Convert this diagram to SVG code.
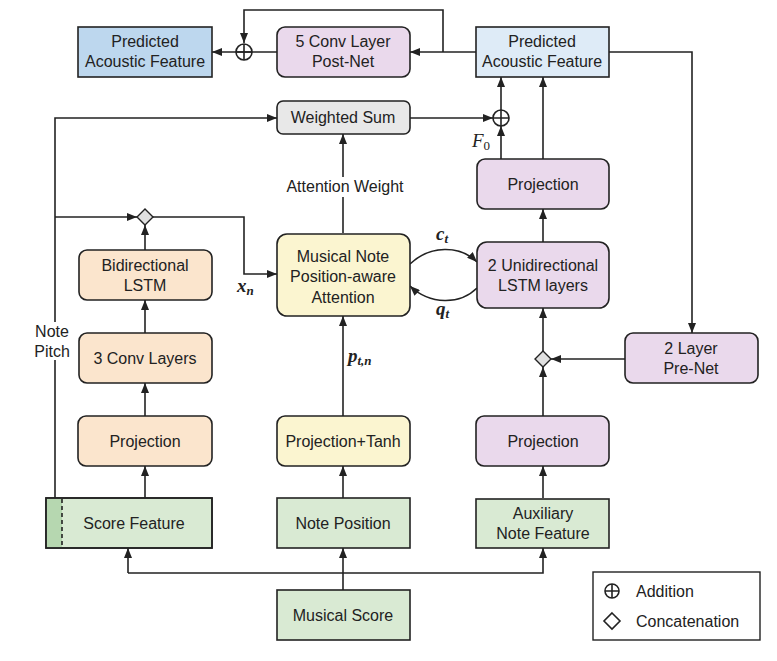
<svg xmlns="http://www.w3.org/2000/svg" width="777" height="661" viewBox="0 0 777 661">
<defs>
<marker id="arr" viewBox="0 0 10 8" refX="10" refY="4" markerWidth="10" markerHeight="8" markerUnits="userSpaceOnUse" orient="auto"><path d="M0,0 L10,4 L0,8 z" fill="#222"/></marker>
<style>
.box{stroke:#222;stroke-width:1.6}
.t{font-family:"Liberation Sans",Arial,sans-serif;font-size:16px;fill:#222;text-anchor:middle}
.m{font-family:"Liberation Serif","Times New Roman",serif;font-style:italic;font-weight:bold;font-size:19px;fill:#222}
.f{font-family:"Liberation Serif","Times New Roman",serif;font-style:italic;font-size:19px;fill:#222}
.sub{font-size:13px}
.ln{fill:none;stroke:#222;stroke-width:1.6}
.a{marker-end:url(#arr)}
.blue{fill:#bdd7ee}.lblue{fill:#deebf7}.pink{fill:#ead9ec}.gray{fill:#e8e8e8}.orange{fill:#fbe5cd}.yellow{fill:#fbf5d0}.green{fill:#d9ead3}
</style>
</defs>
<rect width="777" height="661" fill="#fff"/>

<g id="connectors">
<path class="ln a" d="M443,52 V10 H244 V43"/>
<path class="ln a" d="M476,52 H410"/>
<path class="ln a" d="M277,52 H212"/>
<path class="ln" d="M236,52 H252 M244,44 V60"/>
<circle cx="244" cy="52" r="8" fill="none" stroke="#222" stroke-width="1.6"/>
<path class="ln a" d="M609,52 H692 V333"/>
<path class="ln a" d="M410,118 H493"/>
<circle cx="501" cy="118" r="8" fill="none" stroke="#222" stroke-width="1.6"/>
<path class="ln" d="M493,118 H509 M501,110 V126"/>
<path class="ln a" d="M501,110 V77"/>
<path class="ln a" d="M501,159 V126"/>
<path class="ln a" d="M543,159 V77"/>
<path class="ln a" d="M543,242 V209"/>
<path class="ln a" d="M543,351 V308"/>
<path class="ln a" d="M625,359 H551"/>
<path class="ln a" d="M543,416 V367"/>
<path d="M543,351 L551,359 L543,367 L535,359 Z" fill="#e0e0e0" stroke="#222" stroke-width="1.4"/>
<path class="ln a" d="M543,498 V466"/>
<path class="ln a" d="M343,233 V134"/>
<path class="ln a" d="M343,416 V316"/>
<path class="ln a" d="M343,498 V466"/>
<path class="ln a" d="M410,264 C430,245 460,245 477,262"/>
<path class="ln a" d="M477,288 C460,305 430,305 410,286"/>
<path class="ln a" d="M55,498 V118 H277"/>
<path class="ln a" d="M55,217 H137"/>
<path class="ln a" d="M145,250 V225"/>
<path class="ln a" d="M153,217 H244 V274 H277"/>
<path d="M145,209 L153,217 L145,225 L137,217 Z" fill="#e0e0e0" stroke="#222" stroke-width="1.4"/>
<path class="ln a" d="M145,333 V300"/>
<path class="ln a" d="M145,416 V383"/>
<path class="ln a" d="M145,498 V466"/>
<path class="ln" d="M343,590 V573"/>
<path class="ln a" d="M128,573 H543 V548"/>
<path class="ln a" d="M128,573 V548"/>
<path class="ln a" d="M343,573 V548"/>
</g>

<g id="labels">
<rect x="28" y="322" width="48" height="38" fill="#fff"/>
<text class="t" x="52" y="337">Note</text>
<text class="t" x="52" y="357">Pitch</text>
<rect x="283" y="177" width="122" height="20" fill="#fff"/>
<text class="t" x="345" y="192">Attention Weight</text>
<text class="m" x="237" y="292">x<tspan class="sub" dy="3">n</tspan></text>
<text class="m" x="436" y="240">c<tspan class="sub" dy="3">t</tspan></text>
<text class="m" x="436" y="315">q<tspan class="sub" dy="3">t</tspan></text>
<text class="m" x="348" y="362">p<tspan class="sub" dy="3">t,n</tspan></text>
<text class="f" x="472" y="147">F<tspan class="sub" dy="3" style="font-style:normal">0</tspan></text>
</g>

<g id="n-pred-left"><rect class="box blue" x="78" y="27" width="134" height="50"/><text class="t" x="145" y="47">Predicted</text><text class="t" x="145" y="67">Acoustic Feature</text></g>
<g id="n-postnet"><rect class="box pink" x="277" y="27" width="133" height="50" rx="8"/><text class="t" x="343" y="47">5 Conv Layer</text><text class="t" x="343" y="67">Post-Net</text></g>
<g id="n-pred-right"><rect class="box lblue" x="476" y="27" width="133" height="50"/><text class="t" x="542" y="47">Predicted</text><text class="t" x="542" y="67">Acoustic Feature</text></g>
<g id="n-wsum"><rect class="box gray" x="277" y="101" width="133" height="33" rx="6"/><text class="t" x="343" y="123">Weighted Sum</text></g>
<g id="n-proj-top"><rect class="box pink" x="477" y="159" width="132" height="50" rx="8"/><text class="t" x="543" y="190">Projection</text></g>
<g id="n-bilstm"><rect class="box orange" x="79" y="250" width="133" height="50" rx="8"/><text class="t" x="145" y="271">Bidirectional</text><text class="t" x="145" y="291">LSTM</text></g>
<g id="n-attn"><rect class="box yellow" x="277" y="234" width="133" height="82" rx="10"/><text class="t" x="343" y="262">Musical Note</text><text class="t" x="343" y="282">Position-aware</text><text class="t" x="343" y="303">Attention</text></g>
<g id="n-lstm"><rect class="box pink" x="477" y="242" width="132" height="66" rx="10"/><text class="t" x="543" y="271">2 Unidirectional</text><text class="t" x="543" y="291">LSTM layers</text></g>
<g id="n-conv"><rect class="box orange" x="79" y="333" width="133" height="50" rx="8"/><text class="t" x="145" y="364">3 Conv Layers</text></g>
<g id="n-prenet"><rect class="box pink" x="625" y="333" width="133" height="50" rx="8"/><text class="t" x="691" y="354">2 Layer</text><text class="t" x="691" y="374">Pre-Net</text></g>
<g id="n-proj-left"><rect class="box orange" x="78" y="416" width="134" height="50" rx="8"/><text class="t" x="145" y="447">Projection</text></g>
<g id="n-projtanh"><rect class="box yellow" x="277" y="416" width="133" height="50" rx="8"/><text class="t" x="343" y="447">Projection+Tanh</text></g>
<g id="n-proj-right"><rect class="box pink" x="476" y="416" width="133" height="50" rx="8"/><text class="t" x="543" y="447">Projection</text></g>
<g id="n-score"><rect class="box green" x="46" y="498" width="166" height="50"/><rect x="46.8" y="498.8" width="15.2" height="48.4" fill="#b6d7b0"/><path d="M62,499 V547" stroke="#222" stroke-width="1.6" stroke-dasharray="4,3"/><rect x="46" y="498" width="166" height="50" fill="none" stroke="#222" stroke-width="1.6"/><text class="t" x="134" y="529">Score Feature</text></g>
<g id="n-notepos"><rect class="box green" x="277" y="498" width="133" height="50"/><text class="t" x="343" y="529">Note Position</text></g>
<g id="n-aux"><rect class="box green" x="476" y="499" width="133" height="49"/><text class="t" x="543" y="519">Auxiliary</text><text class="t" x="543" y="539">Note Feature</text></g>
<g id="n-score-main"><rect class="box green" x="277" y="590" width="133" height="50"/><text class="t" x="343" y="621">Musical Score</text></g>

<g id="legend">
<rect x="593" y="572" width="167" height="68" fill="#fff" stroke="#222" stroke-width="1.4"/>
<circle cx="612" cy="591" r="7" fill="none" stroke="#222" stroke-width="1.6"/>
<path class="ln" d="M605,591 H619 M612,584 V598"/>
<path d="M612,613 L620,621 L612,629 L604,621 Z" fill="#fff" stroke="#222" stroke-width="1.6"/>
<text class="t" x="636" y="597" style="text-anchor:start">Addition</text>
<text class="t" x="636" y="627" style="text-anchor:start">Concatenation</text>
</g>
</svg>
